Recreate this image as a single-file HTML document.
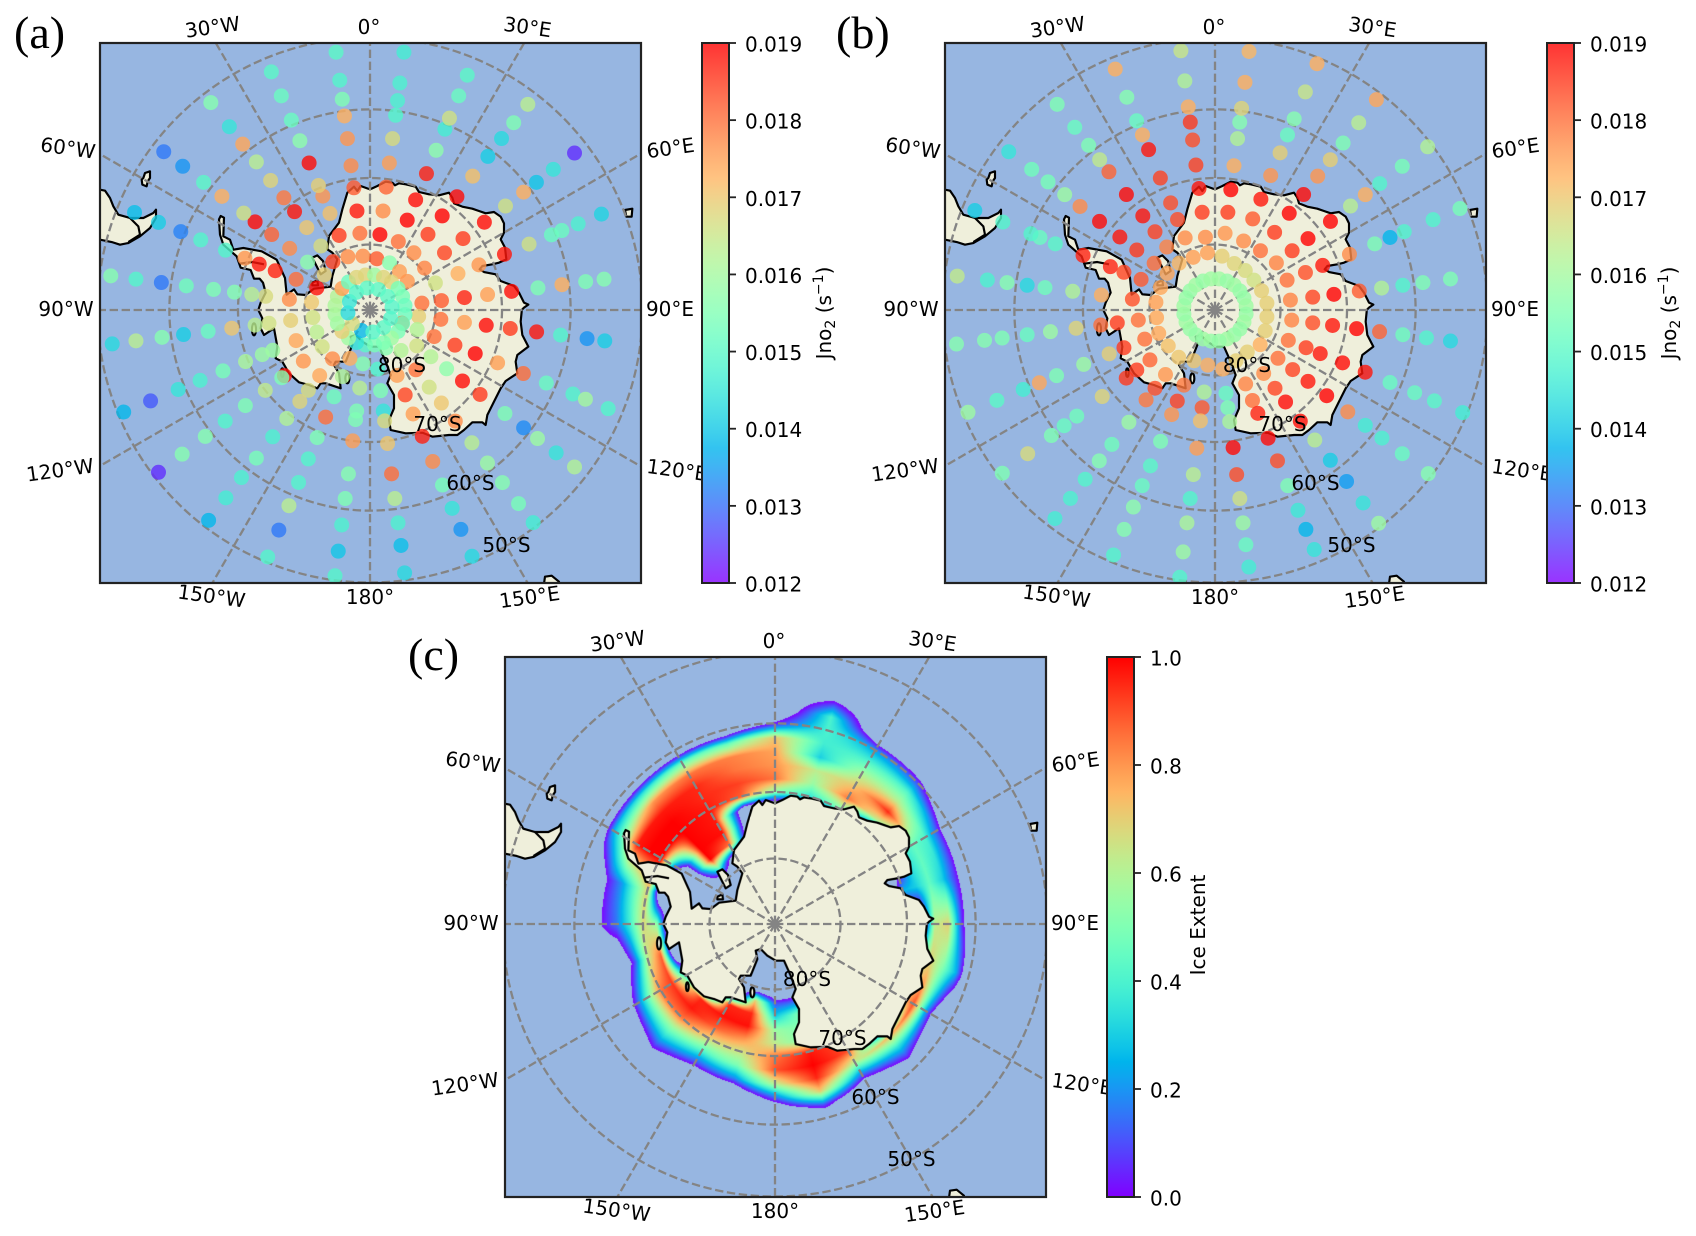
<!DOCTYPE html>
<html lang="en">
<head>
<meta charset="utf-8">
<title>Antarctic Jno2 and sea ice extent maps</title>
<style>
html,body{margin:0;padding:0;background:#fff;width:1696px;height:1236px;overflow:hidden;}
svg{display:block;}
text{font-family:"DejaVu Sans","Liberation Sans",sans-serif;font-size:20px;fill:#000;}
.tag{font-family:"Liberation Serif",serif;font-size:46px;}
.lonlab{text-anchor:middle;}
canvas{display:block;}
</style>
</head>
<body>
<svg id="figure" xmlns="http://www.w3.org/2000/svg" width="1696" height="1236" viewBox="0 0 1696 1236">
<defs>
  <clipPath id="axes-clip"><rect x="100" y="43" width="541" height="540"/></clipPath>
  <g id="land-map" fill="#efefdb" stroke="#000" stroke-width="6.5" stroke-linejoin="round">
    <polygon points="553,310 575,300 600,287 620,290 628,298 640,292 660,295 690,302 700,318 730,325 760,328 790,320 800,335 805,352 830,362 860,368 880,375 900,382 925,378 945,392 955,412 955,440 945,460 958,485 962,520 940,530 920,535 890,540 882,550 895,558 930,565 945,585 985,600 1000,620 1015,650 1028,656 1015,665 1008,672 1008,677 1005,707 1010,747 1028,782 995,807 990,827 995,862 960,885 945,907 925,947 905,987 900,1017 890,1009 860,1009 835,1032 815,1047 790,1047 740,1052 710,1040 660,1042 615,1032 610,1002 625,967 625,927 605,892 615,867 600,827 580,782 555,782 530,767 510,747 495,752 500,777 480,827 450,827 445,837 460,862 465,907 420,892 405,892 395,907 370,897 340,889 310,862 290,827 270,817 275,782 265,727 235,747 225,727 230,697 218,672 225,650 240,620 232,590 222,578 205,578 195,552 165,545 160,531 153,511 113,476 103,446 100,400 105,390 115,395 113,451 133,461 143,491 173,486 228,496 273,521 298,576 303,626 325,610 335,625 360,627 385,608 435,602 440,570 455,520 440,500 425,490 430,450 460,410 470,370 485,320 505,302 515,315 525,300"/>
    <polyline fill="none" points="160,533 200,528 235,535"/>
    <polygon points="380,515 395,508 412,525 420,555 405,565 395,545"/>
    <polygon points="380,590 395,583 397,598 380,598"/>
    <ellipse cx="485" cy="877" rx="6" ry="15"/>
    <ellipse cx="290" cy="860" rx="4" ry="13"/>
    <ellipse cx="205" cy="730" rx="6" ry="18"/>
    <polygon transform="translate(-272,-144)" points="-60,455 15,455 30,458 45,480 55,505 70,530 105,540 145,540 175,525 183,515 183,540 165,570 135,595 100,615 75,620 50,612 15,605 -60,605"/>
    <polyline transform="translate(-272,-144)" fill="none" points="105,540 130,565 135,590 100,612"/>
    <polygon transform="translate(-272,-144)" points="145,420 150,405 165,400 165,420 158,430 155,445 142,440 140,425"/>
    <polygon points="1318,372 1340,368 1338,392 1322,392"/>
    <polygon points="1078,1472 1098,1469 1120,1487 1120,1507 1073,1507"/>
  </g>
</defs>

<rect width="1696" height="1236" fill="#fff"/>
<text class="tag" x="14" y="48">(a)</text>
<text class="tag" x="836" y="48">(b)</text>
<text class="tag" x="408" y="670">(c)</text>

<!-- PANEL A -->
<g id="panel-a">
  <g clip-path="url(#axes-clip)">
    <rect x="100" y="43" width="541" height="540" fill="#97b6e1"/>
    <use href="#land-map" transform="translate(370,310) scale(0.33333) translate(-553,-672)"/>
    <g class="grid"></g>
    <g class="dots"></g>
  </g>
  <rect x="100" y="43" width="541" height="540" fill="none" stroke="#222" stroke-width="2.2"/>
  <g>
    <text class="lonlab" transform="translate(212.5,27) rotate(-8)" y="7">30°W</text>
    <text class="lonlab" transform="translate(369,27)" y="7">0°</text>
    <text class="lonlab" transform="translate(527.5,27) rotate(8)" y="7">30°E</text>
    <text class="lonlab" transform="translate(68,148) rotate(8)" y="7">60°W</text>
    <text class="lonlab" transform="translate(670.5,148) rotate(-8)" y="7">60°E</text>
    <text class="lonlab" transform="translate(66,309)" y="7">90°W</text>
    <text class="lonlab" transform="translate(670,309)" y="7">90°E</text>
    <text class="lonlab" transform="translate(60,470) rotate(-8)" y="7">120°W</text>
    <text class="lonlab" transform="translate(677,470) rotate(8)" y="7">120°E</text>
    <text class="lonlab" transform="translate(211.5,596) rotate(8)" y="7">150°W</text>
    <text class="lonlab" transform="translate(370,597)" y="7">180°</text>
    <text class="lonlab" transform="translate(529.5,597) rotate(-8)" y="7">150°E</text>
  </g>
  <g>
    <text class="lonlab" x="402" y="372">80°S</text>
    <text class="lonlab" x="437.5" y="431">70°S</text>
    <text class="lonlab" x="470.5" y="490">60°S</text>
    <text class="lonlab" x="506.5" y="552">50°S</text>
  </g>
  <g class="cbar"></g>
  <text transform="translate(831,313) rotate(-90)" text-anchor="middle">Jno<tspan dy="4" font-size="14">2</tspan><tspan dy="-4"> (s</tspan><tspan dy="-8" font-size="14">−1</tspan><tspan dy="8">)</tspan></text>
</g>

<!-- PANEL B -->
<g id="panel-b" transform="translate(845,0)">
  <g clip-path="url(#axes-clip)">
    <rect x="100" y="43" width="541" height="540" fill="#97b6e1"/>
    <use href="#land-map" transform="translate(370,310) scale(0.33333) translate(-553,-672)"/>
    <g class="grid"></g>
    <g class="dots"></g>
  </g>
  <rect x="100" y="43" width="541" height="540" fill="none" stroke="#222" stroke-width="2.2"/>
  <g>
    <text class="lonlab" transform="translate(212.5,27) rotate(-8)" y="7">30°W</text>
    <text class="lonlab" transform="translate(369,27)" y="7">0°</text>
    <text class="lonlab" transform="translate(527.5,27) rotate(8)" y="7">30°E</text>
    <text class="lonlab" transform="translate(68,148) rotate(8)" y="7">60°W</text>
    <text class="lonlab" transform="translate(670.5,148) rotate(-8)" y="7">60°E</text>
    <text class="lonlab" transform="translate(66,309)" y="7">90°W</text>
    <text class="lonlab" transform="translate(670,309)" y="7">90°E</text>
    <text class="lonlab" transform="translate(60,470) rotate(-8)" y="7">120°W</text>
    <text class="lonlab" transform="translate(677,470) rotate(8)" y="7">120°E</text>
    <text class="lonlab" transform="translate(211.5,596) rotate(8)" y="7">150°W</text>
    <text class="lonlab" transform="translate(370,597)" y="7">180°</text>
    <text class="lonlab" transform="translate(529.5,597) rotate(-8)" y="7">150°E</text>
  </g>
  <g>
    <text class="lonlab" x="402" y="372">80°S</text>
    <text class="lonlab" x="437.5" y="431">70°S</text>
    <text class="lonlab" x="470.5" y="490">60°S</text>
    <text class="lonlab" x="506.5" y="552">50°S</text>
  </g>
  <g class="cbar"></g>
  <text transform="translate(831,313) rotate(-90)" text-anchor="middle">Jno<tspan dy="4" font-size="14">2</tspan><tspan dy="-4"> (s</tspan><tspan dy="-8" font-size="14">−1</tspan><tspan dy="8">)</tspan></text>
</g>

<!-- PANEL C -->
<g id="panel-c" transform="translate(405,614)">
  <g clip-path="url(#axes-clip)">
    <rect x="100" y="43" width="541" height="540" fill="#97b6e1"/>
    <foreignObject x="100" y="43" width="541" height="540">
      <canvas xmlns="http://www.w3.org/1999/xhtml" id="ice-canvas" width="541" height="540"></canvas>
    </foreignObject>
    <use href="#land-map" transform="translate(370,310) scale(0.33333) translate(-553,-672)"/>
    <g class="grid"></g>
  </g>
  <rect x="100" y="43" width="541" height="540" fill="none" stroke="#222" stroke-width="2.2"/>
  <g>
    <text class="lonlab" transform="translate(212.5,27) rotate(-8)" y="7">30°W</text>
    <text class="lonlab" transform="translate(369,27)" y="7">0°</text>
    <text class="lonlab" transform="translate(527.5,27) rotate(8)" y="7">30°E</text>
    <text class="lonlab" transform="translate(68,148) rotate(8)" y="7">60°W</text>
    <text class="lonlab" transform="translate(670.5,148) rotate(-8)" y="7">60°E</text>
    <text class="lonlab" transform="translate(66,309)" y="7">90°W</text>
    <text class="lonlab" transform="translate(670,309)" y="7">90°E</text>
    <text class="lonlab" transform="translate(60,470) rotate(-8)" y="7">120°W</text>
    <text class="lonlab" transform="translate(677,470) rotate(8)" y="7">120°E</text>
    <text class="lonlab" transform="translate(211.5,596) rotate(8)" y="7">150°W</text>
    <text class="lonlab" transform="translate(370,597)" y="7">180°</text>
    <text class="lonlab" transform="translate(529.5,597) rotate(-8)" y="7">150°E</text>
  </g>
  <g>
    <text class="lonlab" x="402" y="372">80°S</text>
    <text class="lonlab" x="437.5" y="431">70°S</text>
    <text class="lonlab" x="470.5" y="490">60°S</text>
    <text class="lonlab" x="506.5" y="552">50°S</text>
  </g>
  <g class="cbar"></g>
  <text transform="translate(800,311) rotate(-90)" text-anchor="middle">Ice Extent</text>
</g>
</svg>

<script>
// ---- Spoke longitudes shared by the Jno2 samples (degrees east) ----
const spokeLons = [-172.5,-157.5,-142.5,-127.5,-112.5,-97.5,-82.5,-67.5,-52.5,-37.5,-22.5,-7.5,7.5,22.5,37.5,52.5,67.5,82.5,97.5,112.5,127.5,142.5,157.5,172.5];

// ---- Panel (a): latitude (deg) and Jno2 (10^-3 s^-1) per spoke ----
const panelALats = [
[-81.7,-78,-74.5,-73.2,-70,-65.1,-61.5,-57.7,-54,-50.6],
[-82,-79,-75.7,-72.4,-69.1,-65.7,-62,-58.4,-54.7,-50.7],
[-80.6,-77.4,-74.6,-72.5,-69.3,-65.9,-62,-58.5,-54.9,-51],
[-80.8,-77.2,-73.6,-73.1,-70,-66.3,-62.6,-59,-54.9,-50.8],
[-81.2,-77.8,-74,-72.3,-69.6,-66,-62.4,-59,-54.8,-50.8],
[-81.2,-77.8,-74.5,-72.4,-68.9,-65.4,-61.8,-58.7,-55,-51.7],
[-81,-77.6,-74,-71.9,-69.3,-66.2,-62.2,-58.6,-55,-51.5],
[-81.2,-77.8,-74.4,-71.8,-69.5,-66.4,-62.5,-59.4,-56,-52.4],
[-81.2,-78,-74.6,-71.2,-68.1,-66,-62,-58.7,-55,-51.7],
[-80.7,-77.7,-74.2,-71.2,-68.6,-65.4,-62,-58.8,-55.7,-51.5],
[-81.2,-77.7,-74.1,-71.3,-69.6,-66,-62.5,-59.3,-55.6,-52],
[-81.7,-78.2,-74.8,-71.3,-68,-64,-60.7,-58.3,-55.6,-51.7],
[-82.1,-78.4,-74.8,-71.2,-67.6,-64,-60.6,-58.5,-56,-51.7],
[-82.2,-78.7,-75.2,-71.9,-67.7,-64,-60.7,-59,-55.6,-52.5],
[-82.6,-79,-75.5,-72,-68.4,-64.6,-61,-57.8,-55,-51.8],
[-82.8,-79.5,-75.7,-72.2,-68.2,-64.3,-61,-58.7,-55.7,-52],
[-79.2,-75.5,-72.1,-68,-64.1,-60.6,-59,-56.5,-53],
[-82,-79,-75.5,-72,-68.4,-64.5,-61,-57.6,-55],
[-82.5,-79.1,-75.5,-72.2,-68.6,-64.7,-61.2,-57.4,-54.9],
[-84.7,-82.2,-79.4,-76,-72.7,-69.1,-65,-61.4,-57.3,-55.4,-52],
[-81,-78.3,-75.3,-72.3,-69,-64.4,-61,-58.5,-55.2,-52],
[-82.2,-78.5,-75.2,-72.2,-68.8,-64.8,-61.1,-57.6,-53.9,-50.6],
[-83.7,-79.2,-76,-72.9,-69.3,-65.3,-61.6,-58,-54.8,-50.8],
[-80.9,-77.6,-74.5,-73,-69.6,-65.1,-61.5,-58,-54.8,-51]
];
const panelAVals = [
[15.6,16.3,15.5,15.5,17.5,15.6,15.5,14.8,14.0,14.9],
[17.3,16.2,15.3,18,15.5,14.9,14.9,16.3,13.1,14.9],
[17.7,17.4,16.7,16.8,16.2,14.8,15.4,14.8,14.7,13.8],
[16.6,17.6,18.8,15.5,16.4,15.5,14.9,15.6,15.6,12.4],
[16.3,17.4,15.9,15.9,16.1,15.4,14.8,14.5,12.8,13.8],
[16.6,16.9,16.6,16.3,17,15.2,14.1,15.6,16.3,14.3],
[17,17.7,16.7,16.3,15.6,15.5,15.3,13.1,14.9,15.6],
[18.9,18,18.7,18.8,17.6,14.9,14.9,13.2,14.1,13.9],
[16.9,15.7,17.7,18.1,18.9,16.6,17.3,15,13.4,13.1],
[18.4,16.7,17,18.8,17.9,16.8,16.3,17.4,14.5,15.6],
[17.7,18.5,17.1,17.6,16.9,18.9,15.7,15.2,15.2,15],
[17.7,18,18.8,18.2,17.7,17.6,17.3,15.5,14.9,15],
[18.2,19,17.7,18.1,17.5,16.7,14.9,14.8,14.8,14.7],
[15.6,18,19,18.9,18.7,15.7,14.7,16.6,15.2,15],
[17.5,17.7,18.5,19,18.9,17.1,14.1,14.3,15.5,16.3],
[17.6,17.8,18.4,18.5,18.9,16.6,17.3,14,14.5,12.4],
[16.6,17.3,17.6,18.8,16.6,15.2,15.2,14.8,14.2],
[18,18.2,18.7,17.5,18.9,15.5,17.3,15.5,15.6],
[16.9,18,17.5,18.9,18.5,18.8,14.9,13.4,14.1],
[18,16.2,18,18.5,19,17.5,18,15.2,14.9,16,14.9],
[16.6,16.2,15.7,18.9,18.5,15.5,13.3,15.9,14.5,16.2],
[16.2,18,16.6,17,17.7,16.3,15.9,15.6,15.4,14.7],
[15.6,17.5,18.4,17.5,18.7,17.7,15.4,14.5,13.4,14.3],
[14.9,15.5,14.5,16.7,17,18,16.3,14.8,13.9,14.3]
];
const panelARingLats = [-84.6,-86.6];
const panelARing85Vals = [15.0,14.5,15.9,16.9,15.9,16.0,16.1,16.2,17.5,15.2,16.8,16.8,15.9,16.8,16.8,15.4,15.4,15.2,15.2,15.2,15.4,15.9,15.5,15.4];
const panelARing87Vals = [null,13.8,null,16.7,null,14.3,null,14.5,null,14.9,null,15.0,null,15.0,null,15.0,null,14.9,null,14.9,null,15.0,null,14.9];

// ---- Panel (b): latitude (deg) and Jno2 (10^-3 s^-1) per spoke ----
const panelBLats = [
[-81.5,-77.4,-75,-73,-68.9,-65,-61.5,-58,-53.9,-50.4],
[-81.6,-77.6,-75,-72.8,-68.5,-64.6,-61.5,-58.2,-54.8,-51],
[-80.9,-77.6,-75,-72.8,-68.6,-64.5,-61.5,-58.2,-54.8,-51.3],
[-81,-77.5,-75,-73,-68.5,-63.8,-61.5,-59.2,-55,-50.6],
[-80.7,-78.4,-75,-72.6,-68.5,-64.2,-61.5,-59,-55,-50.7],
[-81,-78.2,-75,-72.5,-68.8,-65,-61.6,-58,-55.5,-51.6],
[-80.9,-77.3,-72.6,-68.3,-64.2,-61.6,-58.7,-55.9,-51.7],
[-81,-77.8,-75,-72.8,-68.4,-64,-61.6,-60.2,-55.9,-51.7],
[-80.8,-78.3,-75,-71.8,-68,-64.4,-61.6,-58.6,-55.7,-51.7],
[-81,-77.9,-75,-72,-68,-63.8,-61.6,-59,-55.8,-51.8],
[-81.3,-78.1,-75.1,-72.4,-68.4,-63.9,-61.6,-59.4,-55.8,-51.6],
[-81.2,-78.8,-75,-71.4,-67.9,-64.2,-61.6,-59.4,-55.7,-51.5],
[-81.7,-78.2,-75,-71.6,-68,-64,-61.6,-59.6,-55.9,-51.6],
[-82.3,-78.6,-75,-71.8,-68,-64.4,-61.6,-59.1,-55,-50.8],
[-82.4,-78.6,-75.1,-71.5,-68,-64.6,-61.6,-58.6,-55,-51],
[-82.5,-78.2,-75.2,-72.2,-68,-64.3,-61.6,-59,-55,-50.6],
[-82.3,-78.1,-75.1,-72.3,-68,-64,-61.6,-59.4,-55,-51],
[-82,-78.4,-75,-71.8,-68,-64.7,-61.6,-58.7,-54.8],
[-82,-78.2,-75,-72,-68.4,-65,-61.6,-58.2,-54.8],
[-81.7,-77.9,-75,-72.7,-69.1,-65.5,-61.6,-57.8,-54.8,-50.6],
[-81.3,-77.9,-75.1,-72.2,-68.7,-64.8,-61.6,-58.6,-55,-50.5],
[-81.9,-77.8,-75,-72.4,-68.8,-65.3,-61.6,-57.8,-54,-50.5],
[-81.6,-77.8,-75.1,-73,-69,-65.4,-61.5,-57.7,-54.8,-51.8],
[-80.9,-77.2,-75,-72.9,-69,-65,-61.5,-58,-54.9,-51.8]
];
const panelBVals = [
[17.3,16.2,18.2,17.1,17.5,16.3,14.9,16.1,15.9,14.9],
[17,17.9,18.4,17.6,15.5,15,15.2,15.7,15.6,14.9],
[17,17.6,18.3,17.9,15.9,15.3,15.6,14.9,14.8,14.7],
[17.1,18.1,18.5,18.5,16.8,15.3,15.2,15.5,16.7,15.5],
[17.4,18,18.5,16.9,15.9,15.5,17.4,14.7,15,15.9],
[17.4,18,18.5,18,16.8,15.9,15.2,15.5,15.6,15.6],
[17.5,18.3,17.3,16.2,15.3,14.3,15.6,14.8,16.4],
[17.4,18.2,18.4,18.7,18.7,15,15.2,14.9,14.9,14.1],
[17.4,18,18.5,18.8,18.9,17.7,15.9,15.4,15.3,14.5],
[17.2,17.8,18.4,18.8,18.9,18.1,16.4,15.5,15.2,15.5],
[17.5,17.7,18.3,18.3,18.4,18.8,17.3,15.2,15.6,17.3],
[17.5,17.7,18.5,18.8,18.4,18.3,18.5,17.3,16.2,16.5],
[16.9,17.6,18.5,19,17.3,16.2,15.6,16.8,17.3,17.2],
[16.8,17.7,18.2,18.8,17.6,16.9,15.2,15.6,16.5,17.3],
[16.7,18,18.5,19,18.9,17.6,16.9,15.5,16.3,17.4],
[16.6,17.8,18.5,19,19,16.3,17.3,14.9,15.4,16.2],
[16.9,18,18.3,18.8,17.7,15.5,13.8,14.9,14.9,15.4],
[16.9,17.8,18.4,19,18.2,16.2,14.9,15.5,15.5],
[16.9,17.8,18.3,18.8,19,18.1,15.3,14.9,14.3],
[16.9,18,18.5,18.8,18.9,18.8,15.2,15.2,15,14.7],
[17.3,18,18.4,18.8,19,17.7,14.7,14.8,15.2,15.6],
[16.9,17.7,18.4,18.9,18.9,16.3,14.1,13.5,14.5,15.9],
[16.9,17.8,18,18.7,18.9,18.3,15.5,14.6,13.8,14.5],
[17.3,15.2,15.5,16.1,18.9,18.3,16.6,15.9,15.2,14.7]
];
const panelBRingLats = [-85.2];
const panelBRing85Vals = [15.8,15.9,15.8,15.8,15.9,15.8,15.9,15.8,15.8,15.9,15.8,15.9,15.9,15.8,15.9,15.8,15.8,15.9,15.8,15.9,15.8,15.8,15.9,15.8];

// ---- Panel (c): sea ice fraction on a lat/lon grid (null = no ice) ----
const iceLats = [-78,-76,-74,-72,-70,-68,-66,-64,-62,-60,-58,-56];
const iceLons = [0,15,30,45,60,75,90,105,120,135,150,165,180,195,210,225,240,255,270,285,300,315,330,345];
const n = null;
const iceValues = [
[n,n,n,n,.5,.85,.8,.78,.72,.05,n,n],
[n,n,n,n,.35,.55,.62,.3,.38,.4,.4,.05],
[n,n,n,n,.5,.85,.72,.6,.42,.22,n,n],
[n,n,n,n,n,.6,.95,.62,.42,.1,n,n],
[n,n,n,n,n,.35,.45,.4,.1,n,n,n],
[n,n,n,n,.25,.3,.45,.3,.05,n,n,n],
[n,n,n,n,n,n,.62,.7,.05,n,n,n],
[n,n,n,n,n,.65,.7,.5,.25,n,n,n],
[n,n,n,n,n,.65,.9,.25,n,n,n,n],
[n,n,n,n,n,n,.75,.35,.05,n,n,n],
[n,n,n,.5,.9,.9,.6,.15,n,n,n,n],
[.12,.5,.5,.5,.97,1,.95,.7,.1,n,n,n],
[.1,.3,.55,.62,.85,.9,.62,.15,n,n,n,n],
[.7,.95,.98,.8,.65,.5,.18,n,n,n,n,n],
[n,.95,.98,.88,.68,.42,.1,n,n,n,n,n],
[n,n,.95,.97,.85,.55,.3,.03,n,n,n,n],
[n,n,.5,.93,.85,.5,.12,n,n,n,n,n],
[n,n,n,.88,.62,.1,n,n,n,n,n,n],
[n,n,n,.55,.68,.38,.15,.02,n,n,n,n],
[n,n,n,n,.7,.45,.2,.03,n,n,n,n],
[n,n,n,.3,1,1,.97,.55,.25,n,n,n],
[.4,1,1,1,1,1,.97,.8,.35,n,n,n],
[n,.85,.98,.97,.97,.95,.95,.85,.45,n,n,n],
[n,n,n,n,.88,.92,.85,.83,.45,n,n,n]
];

// ---- Axis ticks and graticule ----
const jnoTicks = [12,13,14,15,16,17,18,19];
const jnoTickLabels = ['0.012','0.013','0.014','0.015','0.016','0.017','0.018','0.019'];
const iceTicks = [0,0.2,0.4,0.6,0.8,1];
const iceTickLabels = ['0.0','0.2','0.4','0.6','0.8','1.0'];
const graticuleLons = [0,30,60,90,120,150,180,210,240,270,300,330];
const graticuleLats = [-80,-70,-60,-50];

const SVGNS = 'http://www.w3.org/2000/svg';
const POLE_X = 370, POLE_Y = 310, MAP_SCALE = 748.7;
const AXIS_LEFT = 100, AXIS_RIGHT = 641, AXIS_TOP = 43, AXIS_BOTTOM = 583;
const CBAR_LEFT = 702, CBAR_W = 27;

function make(tag, attrs, parent) {
  const el = document.createElementNS(SVGNS, tag);
  for (const k in attrs) el.setAttribute(k, attrs[k]);
  if (parent) parent.appendChild(el);
  return el;
}
function rainbow(t) {
  const x = Math.max(0, Math.min(1, t));
  const c = v => Math.round(255 * Math.max(0, Math.min(1, v)));
  return [c(Math.abs(2 * x - 0.5)), c(Math.sin(Math.PI * x)), c(Math.cos(Math.PI * x / 2))];
}
function cssColor(rgb) { return 'rgb(' + rgb[0] + ',' + rgb[1] + ',' + rgb[2] + ')'; }
function latToRadius(lat) { return MAP_SCALE * Math.tan((90 + lat) * Math.PI / 360); }
function xOf(lon, lat) { return POLE_X + latToRadius(lat) * Math.sin(lon * Math.PI / 180); }
function yOf(lon, lat) { return POLE_Y - latToRadius(lat) * Math.cos(lon * Math.PI / 180); }
function jnoNorm(v) { return (v - 12) / 7; }
function edgeRadius(lon) {
  const s = Math.sin(lon * Math.PI / 180), c = Math.cos(lon * Math.PI / 180);
  let r = 1e6;
  if (s > 1e-6) r = Math.min(r, (AXIS_RIGHT - POLE_X) / s);
  if (s < -1e-6) r = Math.min(r, (POLE_X - AXIS_LEFT) / -s);
  if (c > 1e-6) r = Math.min(r, (POLE_Y - AXIS_TOP) / c);
  if (c < -1e-6) r = Math.min(r, (AXIS_BOTTOM - POLE_Y) / -c);
  return r;
}

function drawGraticule(panel) {
  const g = panel.querySelector('.grid');
  const style = {stroke: '#848484', 'stroke-width': 2.3, 'stroke-dasharray': '8.4 3.6', fill: 'none'};
  graticuleLons.forEach(function (lon) {
    const r = edgeRadius(lon);
    const a = lon * Math.PI / 180;
    const line = make('line', Object.assign({x1: POLE_X, y1: POLE_Y, x2: POLE_X + r * Math.sin(a), y2: POLE_Y - r * Math.cos(a)}, style), g);
    
    
  });
  graticuleLats.forEach(function (lat) {
    const ring = make('circle', Object.assign({cx: POLE_X, cy: POLE_Y, r: latToRadius(lat)}, style), g);
    
    
  });
}
function drawPoint(group, lon, lat, val) {
  if (val === null) return;
  const dot = make('circle', {cx: xOf(lon, lat), cy: yOf(lon, lat), r: 7.5, fill: cssColor(rainbow(jnoNorm(val))), 'fill-opacity': 0.8}, group);
  
  
}
function drawPoints(panel, lats, vals, ringLats, ringVals) {
  const g = panel.querySelector('.dots');
  spokeLons.forEach(function (lon, i) {
    lats[i].forEach(function (lat, j) { drawPoint(g, lon, lat, vals[i][j]); });
    ringLats.forEach(function (lat, k) { drawPoint(g, lon, lat, ringVals[k][i]); });
  });
}
function drawColorbar(panel, id, ticks, labels, norm, opacity) {
  const g = panel.querySelector('.cbar');
  const grad = make('linearGradient', {id: id, x1: 0, y1: 1, x2: 0, y2: 0}, g);
  for (let s = 0; s <= 40; s++) {
    make('stop', {offset: s / 40, 'stop-color': cssColor(rainbow(s / 40)), 'stop-opacity': opacity}, grad);
  }
  const h = AXIS_BOTTOM - AXIS_TOP;
  const bg = make('rect', {x: CBAR_LEFT, y: AXIS_TOP, width: CBAR_W, height: h, fill: '#fff'}, g);
  
  
  const ramp = make('rect', {x: CBAR_LEFT, y: AXIS_TOP, width: CBAR_W, height: h, fill: 'url(#' + id + ')', stroke: '#222', 'stroke-width': 2}, g);
  
  
  ticks.forEach(function (t, i) {
    const y = AXIS_BOTTOM - norm(t) * h;
    const tick = make('line', {x1: CBAR_LEFT + CBAR_W, x2: CBAR_LEFT + CBAR_W + 7, y1: y, y2: y, stroke: '#222', 'stroke-width': 1.8}, g);
    
    
    const label = make('text', {x: CBAR_LEFT + CBAR_W + 16, y: y + 8.5}, g);
    label.textContent = labels[i];
    
    
  });
}
function iceAt(lon, lat) {
  const NONE = -0.3;
  const fi = (lat - iceLats[0]) / (iceLats[1] - iceLats[0]);
  if (fi < -1 || fi > iceLats.length) return NONE;
  const step = iceLons[1] - iceLons[0];
  const fj = ((lon % 360) + 360) % 360 / step;
  const j0 = Math.floor(fj) % iceLons.length, j1 = (j0 + 1) % iceLons.length, tj = fj - Math.floor(fj);
  const i0 = Math.floor(fi), i1 = i0 + 1, ti = fi - i0;
  const cell = function (j, i) {
    if (i < 0 || i >= iceLats.length) return NONE;
    const v = iceValues[j][i];
    return v === null ? NONE : v;
  };
  const a = cell(j0, i0) * (1 - ti) + cell(j0, i1) * ti;
  const b = cell(j1, i0) * (1 - ti) + cell(j1, i1) * ti;
  return a * (1 - tj) + b * tj;
}
function drawIce() {
  const canvas = document.getElementById('ice-canvas');
  const ctx = canvas.getContext('2d');
  const img = ctx.createImageData(canvas.width, canvas.height);
  for (let py = 0; py < canvas.height; py++) {
    for (let px = 0; px < canvas.width; px++) {
      const dx = px + AXIS_LEFT - POLE_X, dy = py + AXIS_TOP - POLE_Y;
      const r = Math.hypot(dx, dy);
      const lat = -90 + 2 * Math.atan(r / MAP_SCALE) * 180 / Math.PI;
      const lon = Math.atan2(dx, -dy) * 180 / Math.PI;
      const v = iceAt(lon, lat);
      if (v < 0) continue;
      const rgb = rainbow(v);
      const k = (py * canvas.width + px) * 4;
      img.data[k] = rgb[0]; img.data[k + 1] = rgb[1]; img.data[k + 2] = rgb[2]; img.data[k + 3] = 255;
    }
  }
  ctx.putImageData(img, 0, 0);
}

const panelA = document.getElementById('panel-a');
const panelB = document.getElementById('panel-b');
const panelC = document.getElementById('panel-c');
[panelA, panelB, panelC].forEach(drawGraticule);
drawPoints(panelA, panelALats, panelAVals, panelARingLats, [panelARing85Vals, panelARing87Vals]);
drawPoints(panelB, panelBLats, panelBVals, panelBRingLats, [panelBRing85Vals]);
drawIce();
drawColorbar(panelA, 'cbar-a', jnoTicks, jnoTickLabels, jnoNorm, 0.8);
drawColorbar(panelB, 'cbar-b', jnoTicks, jnoTickLabels, jnoNorm, 0.8);
drawColorbar(panelC, 'cbar-c', iceTicks, iceTickLabels, function (v) { return v; }, 1);
</script>
</body>
</html>
